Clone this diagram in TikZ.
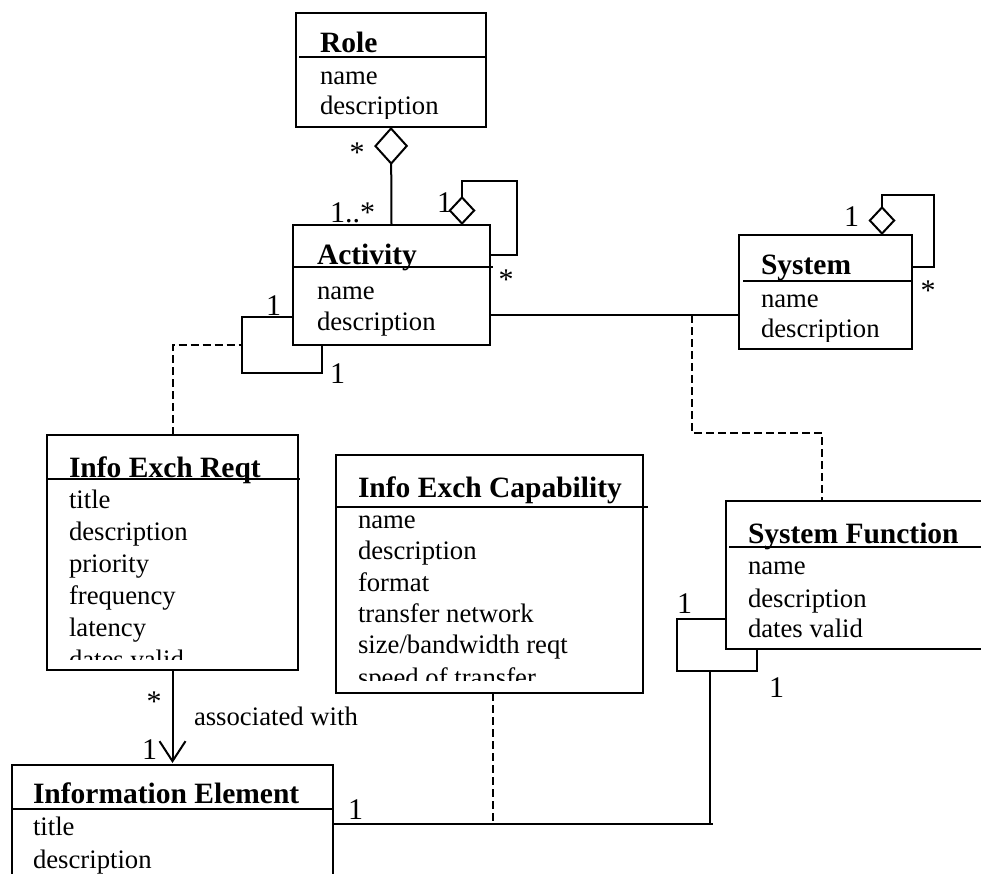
\documentclass[tikz,border=0pt]{standalone}
\usepackage{fontspec}
\setmainfont{Liberation Serif}
\usetikzlibrary{arrows.meta}
\newcommand\attfont{\fontsize{26.7}{32}\selectfont}
\newcommand\ttlfont{\fontsize{29.5}{35}\selectfont\bfseries}
\newcommand\mulfont{\fontsize{30}{36}\selectfont}
\begin{document}
\begin{tikzpicture}[x=1pt, y=-1pt, line width=2pt,
  cls/.style={draw, rectangle, anchor=north west, inner sep=0pt, outer sep=0pt},
  ttl/.style={anchor=base west, inner sep=0pt, font=\ttlfont},
  att/.style={anchor=base west, inner sep=0pt, font=\attfont},
  mul/.style={anchor=base west, inner sep=0pt, font=\mulfont},
  star/.style={anchor=base, inner sep=0pt, font=\mulfont},
  dep/.style={dash pattern=on 8pt off 4pt},
  bigagg/.style={-{Diamond[open, length=38pt, width=34pt]}},
  smallagg/.style={-{Diamond[open, length=29pt, width=27pt]}},
  nav/.style={-{Straight Barb[length=20pt, width=26pt]}},
]
\useasboundingbox (0,0) rectangle (981,874);
\clip (0,0) rectangle (981,874);

% ---------- class boxes ----------
\node[cls, minimum width=190pt, minimum height=114pt] (role) at (296,13) {};
\node[cls, minimum width=197pt, minimum height=120pt] (act)  at (293,225) {};
\node[cls, minimum width=173pt, minimum height=114pt] (sys)  at (739,235) {};
\node[cls, minimum width=251pt, minimum height=235pt] (ier)  at (47,435) {};
\node[cls, minimum width=307pt, minimum height=238pt] (iec)  at (336,455) {};
\node[cls, minimum width=300pt, minimum height=148pt] (sf)   at (726,501) {};
\node[cls, minimum width=321pt, minimum height=140pt] (ie)   at (12,765) {};

% ---------- compartment dividers ----------
\draw (299,57)  -- (486,57);
\draw (293,267) -- (493,267);
\draw (743,281) -- (913,281);
\draw (47,479)  -- (300,479);
\draw (336,507) -- (648,507);
\draw (729,547) -- (981,547);
\draw (12,809)  -- (333,809);

% ---------- class contents ----------
\begin{scope}
  \clip (296,13) rectangle (486,119);
  \node[ttl] (role-n)  at (319,53)  {Role};
  \node[att] (role-a1) at (319,85)  {name};
  \node[att] (role-a2) at (319,115) {description};
\end{scope}

\node[ttl] (act-n)  at (316,265) {Activity};
\node[att] (act-a1) at (316,299) {name};
\node[att] (act-a2) at (316,330) {description};

\begin{scope}
  \clip (739,235) rectangle (912,341);
  \node[ttl] (sys-n)  at (760,275) {System};
  \node[att] (sys-a1) at (760,307) {name};
  \node[att] (sys-a2) at (760,337) {description};
\end{scope}

\begin{scope}
  \clip (47,435) rectangle (298,659);
  \node[ttl] (ier-n)  at (68,477) {Info Exch Reqt};
  \node[att] (ier-a1) at (68,508) {title};
  \node[att] (ier-a2) at (68,540) {description};
  \node[att] (ier-a3) at (68,572) {priority};
  \node[att] (ier-a4) at (68,604) {frequency};
  \node[att] (ier-a5) at (68,636) {latency};
  \node[att] (ier-a6) at (68,668) {dates valid};
\end{scope}

\begin{scope}
  \clip (336,455) rectangle (643,680);
  \node[ttl] (iec-n)  at (357,497) {Info Exch Capability};
  \node[att] (iec-a1) at (357,528) {name};
  \node[att] (iec-a2) at (357,559) {description};
  \node[att] (iec-a3) at (357,591) {format};
  \node[att] (iec-a4) at (357,622) {transfer network};
  \node[att] (iec-a5) at (357,653) {size/bandwidth reqt};
  \node[att] (iec-a6) at (357,686) {speed of transfer};
\end{scope}

\node[ttl] (sf-n)  at (747,543) {System Function};
\node[att] (sf-a1) at (747,574) {name};
\node[att] (sf-a2) at (747,607) {description};
\node[att] (sf-a3) at (747,637) {dates valid};

\node[ttl] (ie-n)  at (32,803) {Information Element};
\node[att] (ie-a1) at (32,835) {title};
\node[att] (ie-a2) at (32,868) {description};

% ---------- connectors ----------
% Role aggregates Activity
\draw[bigagg] (act.north) -- (role.south);
% Activity self-aggregation
\draw[smallagg] (act.east |- 0,255) -- (517,255) -- (517,181) -- (462,181) -- (act.north -| 462,0);
% System self-aggregation
\draw[smallagg] (sys.east |- 0,267) -- (934,267) -- (934,195) -- (882,195) -- (sys.north -| 882,0);
% Activity -- System association
\draw (act.east |- 0,315) coordinate (asA) -- (sys.west |- 0,315) coordinate (asS);
\coordinate (asMid) at (692,315);
\draw[dep] (asMid) -- (692,433) -- (822,433) -- (sf.north -| 822,0);
% Activity reflexive association
\draw (act.west |- 0,317) -- (242,317) -- (242,373) -- (322,373) -- (act.south -| 322,0);
\draw[dep] (ier.north) -- (172.5,345) -- (242,345);
% Info Exch Reqt navigates to Information Element
\draw[nav] (ier.south) -- ([yshift=2pt]ie.north);
% System Function reflexive association
\draw (sf.west |- 0,619) -- (677,619) -- (677,671) -- (757,671) -- (sf.south -| 757,0);
% Information Element -- System Function
\draw (710,671) -- (710,824) coordinate (sfEnd);
\draw (ie.east |- 0,824) -- ([xshift=3pt]sfEnd);
\draw[dep] (iec.south -| 493,0) -- (493,824);

% ---------- multiplicities and labels ----------
\node[star] (m1)  at (357,163) {*};
\node[mul]  (m2)  at (329,223) {1..*};
\node[mul]  (m3)  at (436,213) {1};
\node[star] (m4)  at (506,290) {*};
\node[mul]  (m5)  at (265,315) {1};
\node[mul]  (m6)  at (329,383) {1};
\node[mul]  (m7)  at (843,227) {1};
\node[star] (m8)  at (928,300) {*};
\node[mul]  (m9)  at (676,613) {1};
\node[mul]  (m10) at (768,697) {1};
\node[star] (m11) at (154,711) {*};
\node[att]  (lab) at (193,725) {associated with};
\node[mul]  (m12) at (141,759) {1};
\node[mul]  (m13) at (347,819) {1};
\end{tikzpicture}
\end{document}
